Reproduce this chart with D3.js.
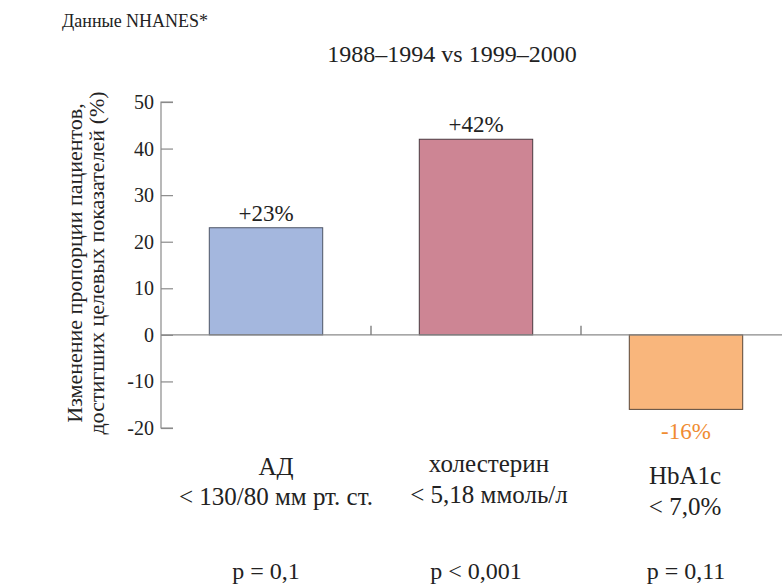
<!DOCTYPE html>
<html><head><meta charset="utf-8">
<script src="https://cdn.jsdelivr.net/npm/d3@7"></script>
<style>body{margin:0;background:#fff}svg{display:block}</style>
</head><body>
<svg id="c" width="782" height="585"></svg>
<script>
const categories = ["АД", "холестерин", "HbA1c"];
const catSub = ["< 130/80 мм рт. ст.", "< 5,18 ммоль/л", "< 7,0%"];
const values = [23, 42, -16];
const valueLabels = ["+23%", "+42%", "-16%"];
const pValues = ["p = 0,1", "p < 0,001", "p = 0,11"];
const yTicks = [50, 40, 30, 20, 10, 0, -10, -20];
const colors = ["#a4b7de", "#cd8594", "#f9b67c"];
const strokes = ["#4e5566", "#4a3a40", "#5a4638"];
const labelColors = ["#222", "#222", "#f08c32"];

const FONT = "'Liberation Serif', 'DejaVu Serif', 'Noto Serif', Tinos, 'Times New Roman', serif";
const svg = d3.select("#c").attr("font-family", FONT).style("font-family", FONT);
const y = d3.scaleLinear().domain([-20, 50]).range([428, 102]);
const x = d3.scaleBand().domain(categories).range([161, 791]).paddingInner(0.46).paddingOuter(0.23);

function T(xx, yy, s, size, anchor) {
  return svg.append("text").attr("x", xx).attr("y", yy).attr("font-size", size)
    .attr("text-anchor", anchor || "start").attr("fill", "#222").style("font-family", FONT).text(s);
}

// Title + source
T(62, 27, "Данные NHANES*", 18);
T(452, 62, "1988–1994 vs 1999–2000", 24, "middle");

// Y axis
const yAxis = d3.axisRight(y).tickValues(yTicks).tickSize(12).tickFormat("");
const ga = svg.append("g").attr("transform", "translate(161,0)").call(yAxis);
ga.selectAll("path,line").attr("stroke", "#8a8a8a").attr("stroke-width", 1.2);
ga.select(".domain").attr("d", `M12,${y(50)}H0V${y(-20)}H12`);
yTicks.forEach(d => T(154, y(d), d, 20, "end").attr("dy", "0.35em"));

// Y label
const yl = svg.append("text").attr("transform", "translate(82,263) rotate(-90)").attr("text-anchor", "middle")
  .attr("font-size", 22).attr("fill", "#222").style("font-family", FONT);
yl.append("tspan").attr("x", 0).attr("dy", 0).text("Изменение пропорции пациентов,");
yl.append("tspan").attr("x", 0).attr("dy", 22).text("достигших целевых показателей (%)");

// Bars
svg.selectAll(".bar").data(values).enter().append("rect")
  .attr("x", (d, i) => x(categories[i]))
  .attr("width", x.bandwidth())
  .attr("y", d => y(Math.max(0, d)))
  .attr("height", d => Math.abs(y(d) - y(0)))
  .attr("fill", (d, i) => colors[i]).attr("stroke", (d, i) => strokes[i]).attr("stroke-width", 1);

// Zero line
svg.append("line").attr("x1", 161).attr("x2", 782).attr("y1", y(0)).attr("y2", y(0)).attr("stroke", "#8a8a8a").attr("stroke-width", 1.2);
// Category separators
const step = x.step();
[1, 2].forEach(i => {
  const xx = x(categories[i]) - x.paddingInner() * step / 2;
  svg.append("line").attr("x1", xx).attr("x2", xx).attr("y1", y(0)).attr("y2", y(0) - 9).attr("stroke", "#6a6a6a").attr("stroke-width", 1.2);
});

// Value labels
values.forEach((d, i) => {
  T(x(categories[i]) + x.bandwidth() / 2, d >= 0 ? y(d) - 7 : y(d) + 30, valueLabels[i], 23, "middle")
    .attr("fill", labelColors[i]);
});

// Category labels (slightly offset from bar centres as in the original)
const catY = [[475, 505], [472, 503], [484, 515]];
const catShift = [10, 13, -1];
categories.forEach((c, i) => {
  const bx = x(c) + x.bandwidth() / 2;
  const cx = bx + catShift[i];
  T(cx, catY[i][0], c, 25, "middle");
  T(cx, catY[i][1], catSub[i], 25, "middle");
  T(bx, 579, pValues[i], 24, "middle");
});
</script>
</body></html>
